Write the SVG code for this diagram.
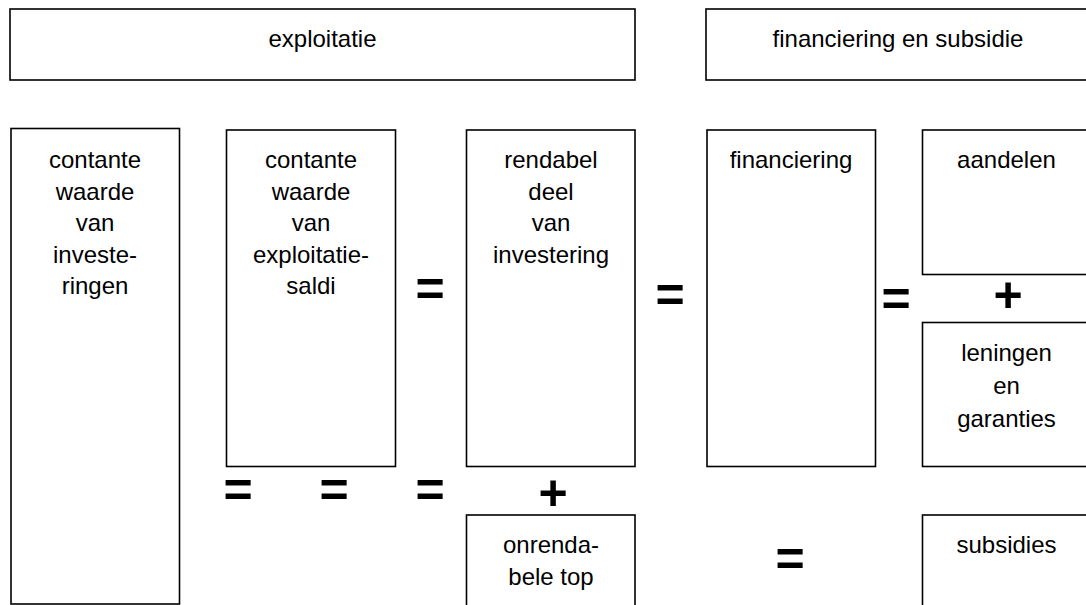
<svg xmlns="http://www.w3.org/2000/svg" width="1086" height="605" viewBox="0 0 1086 605">
<style>
.box{fill:#fff;stroke:#000;stroke-width:1.6}
.t{font-family:"Liberation Sans",Arial,sans-serif;font-size:24px;fill:#000;text-anchor:middle}
.op{font-family:"Liberation Sans",Arial,sans-serif;font-size:50px;font-weight:bold;fill:#000;text-anchor:middle}
</style>
<rect width="1086" height="605" fill="#fff"/>
<g id="exploitatie">
<rect class="box" x="10" y="9" width="625" height="71"/>
<text class="t" x="322.5" y="47">exploitatie</text>
</g>
<g id="financiering-en-subsidie">
<rect class="box" x="706" y="9" width="390" height="71"/>
<text class="t" x="898" y="47">financiering en subsidie</text>
</g>
<g id="cw-investeringen">
<rect class="box" x="11" y="128.5" width="168.5" height="475.5"/>
<text class="t" x="95" y="168"><tspan x="95">contante</tspan><tspan x="95" dy="31.5">waarde</tspan><tspan x="95" dy="31.5">van</tspan><tspan x="95" dy="31.5">investe-</tspan><tspan x="95" dy="31.5">ringen</tspan></text>
</g>
<g id="cw-exploitatiesaldi">
<rect class="box" x="226.5" y="130" width="169" height="336.5"/>
<text class="t" x="311" y="168"><tspan x="311">contante</tspan><tspan x="311" dy="31.5">waarde</tspan><tspan x="311" dy="31.5">van</tspan><tspan x="311" dy="31.5">exploitatie-</tspan><tspan x="311" dy="31.5">saldi</tspan></text>
</g>
<g id="rendabel-deel">
<rect class="box" x="466.5" y="130" width="168.5" height="336.5"/>
<text class="t" x="551" y="168"><tspan x="551">rendabel</tspan><tspan x="551" dy="31.5">deel</tspan><tspan x="551" dy="31.5">van</tspan><tspan x="551" dy="31.5">investering</tspan></text>
</g>
<g id="onrendabele-top">
<rect class="box" x="466.5" y="515" width="168.5" height="100"/>
<text class="t" x="551" y="553"><tspan x="551">onrenda-</tspan><tspan x="551" dy="31.5">bele top</tspan></text>
</g>
<g id="financiering">
<rect class="box" x="707" y="130" width="168.5" height="336.5"/>
<text class="t" x="791" y="168">financiering</text>
</g>
<g id="aandelen">
<rect class="box" x="922.5" y="130" width="170" height="144.5"/>
<text class="t" x="1006.5" y="168">aandelen</text>
</g>
<g id="leningen-en-garanties">
<rect class="box" x="922.5" y="322.5" width="170" height="144"/>
<text class="t" x="1006.5" y="361"><tspan x="1006.5">leningen</tspan><tspan x="1006.5" dy="33">en</tspan><tspan x="1006.5" dy="33">garanties</tspan></text>
</g>
<g id="subsidies">
<rect class="box" x="922.5" y="515" width="170" height="100"/>
<text class="t" x="1006.5" y="553">subsidies</text>
</g>
<g id="connectors">
<text class="op" x="430" y="305.5">=</text>
<text class="op" x="670" y="311.5">=</text>
<text class="op" x="896" y="315.5">=</text>
<text class="op" x="1008" y="312">+</text>
<text class="op" x="238" y="507">=</text>
<text class="op" x="334" y="507">=</text>
<text class="op" x="430" y="507">=</text>
<text class="op" x="553" y="510">+</text>
<text class="op" x="790" y="575.5">=</text>
</g>
</svg>
